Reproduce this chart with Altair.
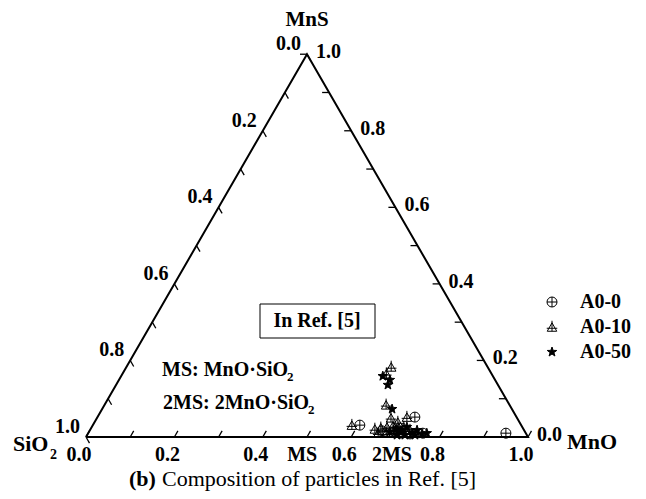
import altair as alt
import pandas as pd

# ---------------- data (mass fractions) ----------------
series_names = ["A0-0", "A0-10", "A0-50"]

a0_0_mno = [0.718, 0.757, 0.945, 0.604, 0.662, 0.705, 0.729]
a0_0_mns = [0.052, 0.010, 0.010, 0.031, 0.016, 0.010, 0.008]

a0_10_mno = [0.599, 0.597, 0.637, 0.700, 0.665, 0.586, 0.643, 0.655, 0.668,
             0.680, 0.696, 0.706, 0.724, 0.656, 0.674, 0.690, 0.710, 0.686]
a0_10_mns = [0.183, 0.165, 0.084, 0.052, 0.050, 0.031, 0.021, 0.024, 0.026,
             0.029, 0.024, 0.026, 0.018, 0.010, 0.010, 0.013, 0.010, 0.039]

a0_50_mno = [0.592, 0.613, 0.615, 0.656, 0.681, 0.691, 0.707, 0.713, 0.733,
             0.740, 0.756, 0.766, 0.701, 0.719, 0.742]
a0_50_mns = [0.159, 0.149, 0.136, 0.073, 0.013, 0.021, 0.016, 0.026, 0.010,
             0.018, 0.008, 0.010, 0.005, 0.005, 0.005]

tick_values = [0.0, 0.1, 0.2, 0.3, 0.4, 0.5, 0.6, 0.7, 0.8, 0.9, 1.0]
label_values = [0.0, 0.2, 0.4, 0.6, 0.8, 1.0]
compound_names = ["MS", "2MS"]
compound_mno = [0.505, 0.708]

# ---------------- layout ----------------
FONT = "Liberation Serif"
S = 0.8660254
PX = 442.0            # pixels per unit edge
OX, OY = 86.0, 437.0  # page position of the SiO2 corner
W, H = 630, 483
xmin = -(OX - 8) / PX
xmax = xmin + W / PX
ymax = (OY - 8) / PX
ymin = ymax - H / PX
TL = 7.0 / PX         # tick length


def X(f="x"):
    return alt.X(f"{f}:Q", scale=alt.Scale(domain=[xmin, xmax], nice=False, zero=False), axis=None)


def Y(f="y"):
    return alt.Y(f"{f}:Q", scale=alt.Scale(domain=[ymin, ymax], nice=False, zero=False), axis=None)


def ann(text, px, py, size, weight="bold", align="left", baseline="middle"):
    df = pd.DataFrame({"x": [(px - OX) / PX], "y": [(OY - py) / PX], "t": [text]})
    return alt.Chart(df).mark_text(font=FONT, fontSize=size, fontWeight=weight, align=align,
                                   baseline=baseline, color="black").encode(x=X(), y=Y(), text="t:N")


# ---------------- frame ----------------
corners = pd.DataFrame({"mno": [0, 1, 0, 0], "mns": [0, 0, 1, 0], "o": [0, 1, 2, 3]})
frame = alt.Chart(corners).mark_line(color="black", strokeWidth=2, strokeJoin="miter").transform_calculate(
    x="datum.mno + datum.mns / 2", y=f"{S} * datum.mns"
).encode(x=X(), y=Y(), order="o:Q")

ticks_df = pd.DataFrame({"t": tick_values})
bottom_ticks = alt.Chart(ticks_df).mark_rule(color="black", strokeWidth=1.3).transform_calculate(
    x="datum.t", y="0", x2=f"datum.t + 0.5 * {TL}", y2=f"{S} * {TL}"
).encode(x=X(), y=Y(), x2="x2:Q", y2="y2:Q")
left_ticks = alt.Chart(ticks_df).mark_rule(color="black", strokeWidth=1.3).transform_calculate(
    x="0.5 * (1 - datum.t)", y=f"{S} * (1 - datum.t)",
    x2=f"0.5 * (1 - datum.t) + 0.5 * {TL}", y2=f"{S} * (1 - datum.t) - {S} * {TL}"
).encode(x=X(), y=Y(), x2="x2:Q", y2="y2:Q")
right_ticks = alt.Chart(ticks_df).mark_rule(color="black", strokeWidth=1.3).transform_calculate(
    x="1 - 0.5 * datum.t", y=f"{S} * datum.t", x2=f"1 - 0.5 * datum.t - {TL}", y2=f"{S} * datum.t"
).encode(x=X(), y=Y(), x2="x2:Q", y2="y2:Q")

lab_df = pd.DataFrame({"t": label_values, "s": [f"{v:.1f}" for v in label_values]})
txt_kw = dict(font=FONT, fontSize=20, fontWeight="bold", color="black", baseline="middle")
bottom_labels = alt.Chart(lab_df).mark_text(align="center", dx=-7, dy=18, **txt_kw).transform_calculate(
    x="datum.t", y="0").encode(x=X(), y=Y(), text="s:N")
left_labels = alt.Chart(lab_df).mark_text(align="right", dx=-6, dy=-10, **txt_kw).transform_calculate(
    x="0.5 * (1 - datum.t)", y=f"{S} * (1 - datum.t)").encode(x=X(), y=Y(), text="s:N")
right_labels = alt.Chart(lab_df).mark_text(align="left", dx=9, dy=-2, **txt_kw).transform_calculate(
    x="1 - 0.5 * datum.t", y=f"{S} * datum.t").encode(x=X(), y=Y(), text="s:N")
comp_df = pd.DataFrame({"t": compound_mno, "s": compound_names})
comp_labels = alt.Chart(comp_df).mark_text(align="center", dx=-7, dy=18, **txt_kw).transform_calculate(
    x="datum.t", y="0").encode(x=X(), y=Y(), text="s:N")

# ---------------- particles ----------------
pts = pd.concat([
    pd.DataFrame({"series": series_names[0], "mno": a0_0_mno, "mns": a0_0_mns}),
    pd.DataFrame({"series": series_names[1], "mno": a0_10_mno, "mns": a0_10_mns}),
    pd.DataFrame({"series": series_names[2], "mno": a0_50_mno, "mns": a0_50_mns}),
], ignore_index=True)

circle_plus = "M-1,0A1,1,0,1,1,1,0A1,1,0,1,1,-1,0ZM-1,0L1,0M0,-1L0,1"
tri_cross = "M0,-0.85L0.95,0.85L-0.95,0.85ZM0,-1.25L0,0.85M-1.05,0.25L1.05,0.25"
star = ("M0,-1L0.235,-0.324L0.951,-0.309L0.38,0.124L0.588,0.809L0,0.4"
        "L-0.588,0.809L-0.38,0.124L-0.951,-0.309L-0.235,-0.324Z")
shape_scale = alt.Scale(domain=series_names, range=[circle_plus, tri_cross, star])
fill_scale = alt.Scale(domain=series_names, range=["transparent", "transparent", "black"])

points = alt.Chart(pts).mark_point(filled=False, stroke="black", strokeWidth=1, size=100, opacity=1).transform_calculate(
    x="datum.mno + datum.mns / 2", y=f"{S} * datum.mns"
).encode(
    x=X(), y=Y(),
    shape=alt.Shape("series:N", scale=shape_scale, legend=None),
    fill=alt.Fill("series:N", scale=fill_scale, legend=None),
)

# ---------------- legend (drawn with the same shape/fill scales) ----------------
LEG_SYM_X, LEG_TXT_X, LEG_Y0, LEG_STEP = 552, 580, 302, 25
leg_df = pd.DataFrame({
    "series": series_names,
    "x": [(LEG_SYM_X - OX) / PX] * 3,
    "xt": [(LEG_TXT_X - OX) / PX] * 3,
    "y": [(OY - (LEG_Y0 + i * LEG_STEP)) / PX for i in range(3)],
})
legend_sym = alt.Chart(leg_df).mark_point(filled=False, stroke="black", strokeWidth=1, size=100, opacity=1).encode(
    x=X(), y=Y(),
    shape=alt.Shape("series:N", scale=shape_scale, legend=None),
    fill=alt.Fill("series:N", scale=fill_scale, legend=None),
)
legend_txt = alt.Chart(leg_df).mark_text(align="left", **txt_kw).encode(
    x=X("xt"), y=Y(), text="series:N")

# ---------------- annotations ----------------
box_df = pd.DataFrame({"x": [(260 - OX) / PX], "x2": [(375 - OX) / PX],
                       "y": [(OY - 304) / PX], "y2": [(OY - 338) / PX]})
box = alt.Chart(box_df).mark_rect(fill="white", stroke="black", strokeWidth=1).encode(
    x=X(), x2="x2:Q", y=Y(), y2="y2:Q")

layers = [
    frame, bottom_ticks, left_ticks, right_ticks,
    bottom_labels, left_labels, right_labels, comp_labels,
    box,
    ann("In Ref. [5]", 317, 321, 20, align="center"),
    ann("MS: MnO·SiO", 162, 370, 20),
    ann("2", 287, 377, 13),
    ann("2MS: 2MnO·SiO", 163, 403, 20),
    ann("2", 308, 410, 13),
    ann("MnS", 307, 20, 21, align="center"),
    ann("SiO", 13, 444, 22),
    ann("2", 50, 455, 14),
    ann("MnO", 567, 442, 22),
    ann("(b)", 129, 479, 22),
    ann("Composition of particles in Ref. [5]", 162, 479, 22, weight="normal"),
    points, legend_sym, legend_txt,
]

chart = alt.layer(*layers).properties(
    width=W, height=H, padding=0, autosize="none"
).configure_view(stroke=None)

chart.save("out.html", embed_options={"renderer": "svg", "actions": False})
